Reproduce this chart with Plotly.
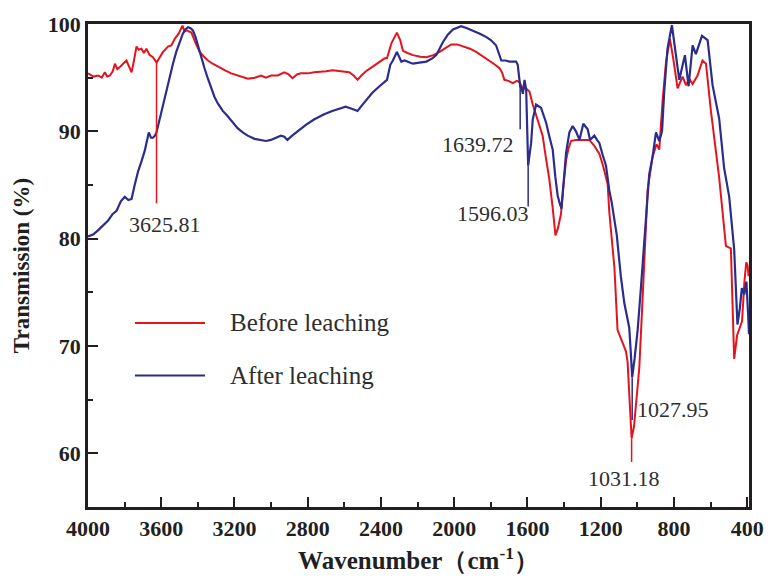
import plotly.graph_objects as go

# FTIR spectra of the sample before and after leaching
wn_before = [
    4000, 3970, 3944, 3925, 3908, 3895, 3880, 3865, 3853, 3840, 3826, 3808, 3790, 3775,
    3762, 3750, 3735, 3722, 3708, 3695, 3681, 3663, 3645, 3625.81, 3608, 3590, 3563, 3545,
    3527, 3505, 3484, 3472, 3462, 3435, 3414, 3390, 3369, 3345, 3319, 3290, 3254, 3218,
    3169, 3127, 3089, 3054, 3029, 3000, 2964, 2928, 2904, 2883, 2859, 2837, 2799, 2765,
    2699, 2665, 2619, 2574, 2549, 2528, 2507, 2482, 2447, 2408, 2380, 2367, 2343, 2325,
    2313, 2295, 2280, 2255, 2226, 2184, 2152, 2114, 2080, 2044, 2016, 1984, 1953, 1914,
    1880, 1844, 1808, 1784, 1754, 1739, 1726, 1704, 1680, 1658, 1644, 1626, 1608, 1589,
    1571, 1553, 1533, 1517, 1499, 1481, 1463, 1447, 1433, 1417, 1403, 1389, 1376, 1362,
    1337, 1316, 1287, 1262, 1237, 1207, 1187, 1162, 1153, 1138, 1125, 1108, 1080, 1062,
    1053, 1045, 1038, 1031.18, 1018, 1003, 989, 975, 962, 944, 917, 895, 880, 862, 843,
    822, 804, 780, 753, 734, 716, 698, 671, 644, 625, 598, 553, 516, 489, 471, 455, 440,
    428, 415, 405, 398, 392,
]
tr_before = [
    95.4, 95.1, 95.2, 95.0, 95.5, 95.1, 95.2, 95.6, 96.3, 95.8, 96.0, 96.3, 96.6, 96.0,
    95.5, 96.5, 97.9, 97.6, 97.7, 97.3, 97.7, 97.1, 96.9, 96.4, 96.9, 97.4, 97.9, 98.0,
    98.6, 99.1, 99.85, 99.3, 99.4, 99.2, 98.3, 97.4, 97.0, 96.6, 96.3, 96.0, 95.7, 95.4,
    95.1, 94.9, 95.0, 95.2, 95.0, 95.2, 95.2, 95.5, 95.3, 94.95, 95.3, 95.4, 95.4, 95.5,
    95.6, 95.7, 95.6, 95.5, 95.2, 94.8, 95.2, 95.6, 96.0, 96.5, 96.8, 96.8, 98.2, 98.8,
    99.2, 98.5, 97.5, 97.3, 97.1, 96.95, 96.9, 97.1, 97.4, 97.8, 98.1, 98.1, 97.9, 97.7,
    97.4, 97.0, 96.6, 96.3, 95.9, 95.5, 94.8, 94.7, 94.5, 94.7, 94.6, 94.0, 94.0, 93.7,
    92.5, 91.6, 90.5, 89.6, 87.5, 85.6, 83.0, 80.3, 81.0, 82.3, 85.0, 87.3, 88.4, 89.1,
    89.2, 89.2, 89.2, 89.2, 88.7, 87.9, 86.8, 85.1, 82.5, 79.5, 77.3, 71.5, 70.2, 69.5,
    68.5, 66.0, 63.0, 61.4, 62.5, 65.5, 68.0, 73.0, 77.3, 84.5, 87.6, 88.8, 88.3, 92.8, 96.5,
    98.6, 96.8, 94.0, 95.1, 94.3, 94.9, 94.4, 95.2, 96.6, 96.3, 91.9, 85.7, 79.3, 79.1,
    68.8, 71.0, 71.8, 72.3, 76.0, 77.8, 77.5, 76.5,
]

wn_after = [
    4000, 3970, 3944, 3915, 3890, 3865, 3844, 3820, 3799, 3780, 3762, 3745, 3726, 3708,
    3690, 3668, 3656, 3645, 3635, 3626, 3608, 3590, 3572, 3554, 3536, 3518, 3500, 3482,
    3468, 3454, 3440, 3427, 3413, 3400, 3382, 3364, 3345, 3327, 3309, 3291, 3264, 3237,
    3210, 3183, 3155, 3128, 3090, 3055, 3028, 3001, 2975, 2947, 2928, 2911, 2885, 2856,
    2810, 2766, 2710, 2666, 2630, 2593, 2560, 2528, 2505, 2482, 2447, 2408, 2380, 2367,
    2349, 2335, 2313, 2298, 2289, 2271, 2226, 2190, 2152, 2120, 2098, 2062, 2035, 2007,
    1962, 1930, 1899, 1860, 1826, 1800, 1771, 1760, 1743, 1720, 1698, 1662, 1653,
    1639.72, 1632, 1625, 1616, 1607, 1600, 1596.03, 1591, 1580, 1571, 1553, 1526, 1498,
    1480, 1462, 1448, 1435, 1422, 1414, 1407, 1389, 1371, 1353, 1335, 1316, 1295, 1282,
    1271, 1258, 1247, 1235, 1220, 1207, 1189, 1171, 1153, 1140, 1112, 1090, 1071, 1044,
    1036, 1027.95, 1015, 998, 980, 962, 949, 935, 917, 898, 880, 865, 853, 835, 811, 793,
    771, 740, 720, 698, 680, 647, 616, 589, 553, 526, 498, 471, 453, 440, 429, 416, 404,
    395, 390,
]
tr_after = [
    80.2, 80.4, 80.8, 81.3, 81.7, 82.3, 82.6, 83.5, 83.9, 83.6, 83.7, 85.0, 86.3, 87.2,
    88.2, 89.9, 89.4, 89.4, 89.6, 89.9, 91.2, 92.5, 93.8, 95.2, 96.3, 97.4, 98.3, 99.1,
    99.5, 99.7, 99.6, 99.4, 98.8, 98.0, 97.0, 95.9, 94.9, 94.0, 93.2, 92.6, 91.9, 91.4,
    90.8, 90.3, 89.9, 89.6, 89.3, 89.2, 89.1, 89.2, 89.4, 89.6, 89.5, 89.2, 89.6, 90.0,
    90.6, 91.1, 91.6, 91.9, 92.1, 92.3, 92.1, 91.9, 92.4, 92.9, 93.6, 94.2, 94.6, 94.8,
    96.2, 96.6, 97.4, 96.8, 96.5, 96.6, 96.3, 96.4, 96.5, 96.8, 97.1, 98.3, 99.0, 99.5,
    99.8, 99.6, 99.4, 99.1, 98.8, 98.5, 98.0, 97.5, 96.6, 96.6, 96.5, 96.5, 96.2,
    94.2, 94.0, 93.5, 94.8, 93.9, 88.9, 86.8, 87.5, 88.9, 91.1, 92.5, 92.2, 90.8,
    89.5, 88.3, 85.8, 84.0, 83.2, 82.8, 84.3, 88.0, 89.9, 90.5, 90.0, 89.2, 90.7, 90.4,
    90.2, 89.2, 89.4, 89.6, 89.2, 88.9, 87.8, 86.8, 84.5, 83.4, 80.3, 76.5, 74.0, 71.7,
    69.5, 67.1, 68.8, 71.5, 75.5, 80.0, 82.5, 86.0, 87.6, 89.9, 89.1, 90.0, 93.7, 97.7, 99.9, 97.4,
    94.8, 97.1, 94.2, 98.0, 97.2, 98.9, 98.5, 94.3, 91.2, 86.6, 83.9, 79.0, 72.0, 73.5,
    75.4, 74.8, 76.0, 73.0, 71.1,
]

# Assigned bands: wavenumber, curve value at the band, lower end of the marker line
peak_labels = ["3625.81", "1639.72", "1596.03", "1027.95", "1031.18"]
peak_wn = [3625.81, 1639.72, 1596.03, 1027.95, 1031.18]
peak_tr = [96.4, 94.2, 86.8, 67.1, 61.4]
peak_line_end = [83.3, 90.2, 83.0, 63.1, 59.2]
peak_series = ["before", "after", "after", "after", "before"]

series_names = ["Before leaching", "After leaching"]
x_ticks = [4000, 3600, 3200, 2800, 2400, 2000, 1600, 1200, 800, 400]
y_ticks = [60, 70, 80, 90, 100]

RED = "#e3141c"
BLUE = "#2b2c8c"
INK = "#231f20"
SERIF = "Liberation Serif"

fig = go.Figure()
fig.add_trace(go.Scatter(x=wn_before, y=tr_before, mode="lines", name=series_names[0],
                         line=dict(color=RED, width=2), showlegend=False))
fig.add_trace(go.Scatter(x=wn_after, y=tr_after, mode="lines", name=series_names[1],
                         line=dict(color=BLUE, width=2.2), showlegend=False))

# band marker lines and their labels
label_style = {
    "3625.81": dict(y=81.3, xanchor="center", xshift=8),
    "1639.72": dict(y=88.8, xanchor="right", xshift=-4),
    "1596.03": dict(y=82.3, xanchor="right", xshift=3),
    "1027.95": dict(y=64.1, xanchor="left", xshift=3),
    "1031.18": dict(y=57.7, xanchor="center", xshift=-8),
}
for lab, w, t0, t1, s in zip(peak_labels, peak_wn, peak_tr, peak_line_end, peak_series):
    col = RED if s == "before" else BLUE
    fig.add_shape(type="line", xref="x", yref="y", x0=w, x1=w, y0=t0, y1=t1,
                  line=dict(color=col, width=1.5))
    st = label_style[lab]
    fig.add_annotation(x=w, y=st["y"], text=lab, showarrow=False, xanchor=st["xanchor"],
                       yanchor="middle", xshift=st["xshift"],
                       font=dict(family=SERIF, size=22, color="#2e2e2e"))

# legend drawn as sample lines with labels
legend_rows = [(series_names[0], RED, 0.381), (series_names[1], BLUE, 0.272)]
for name, col, py in legend_rows:
    fig.add_shape(type="line", xref="paper", yref="paper", x0=0.071, x1=0.177, y0=py, y1=py,
                  line=dict(color=col, width=2))
    fig.add_annotation(xref="paper", yref="paper", x=0.2115, y=py, text=name, showarrow=False,
                       xanchor="left", yanchor="middle",
                       font=dict(family=SERIF, size=25, color="#2e2e2e"))

axis_common = dict(
    showline=True, linecolor=INK, linewidth=2.5, mirror=True,
    ticks="inside", ticklen=10, tickwidth=2, tickcolor=INK,
    showgrid=False, zeroline=False,
    tickfont=dict(family=SERIF, size=22, color=INK),
)
fig.update_xaxes(
    range=[4000, 390], tickvals=x_ticks, ticktext=[f"<b>{v}</b>" for v in x_ticks],
    minor=dict(ticks="inside", ticklen=5, tickwidth=2, tickcolor=INK, dtick=200, tick0=0),
    title=dict(text="<b>Wavenumber（cm<sup>-1</sup>）</b>",
               font=dict(family=SERIF, size=25, color=INK), standoff=12),
    **axis_common,
)
fig.update_yaxes(
    range=[55, 100], tickvals=y_ticks, ticktext=[f"<b>{v}</b>" for v in y_ticks],
    minor=dict(ticks="inside", ticklen=5, tickwidth=2, tickcolor=INK, dtick=5, tick0=0),
    title=dict(text="<b>Transmission (%)</b>", font=dict(family=SERIF, size=23, color=INK),
               standoff=12),
    **axis_common,
)
fig.update_layout(
    width=776, height=583,
    margin=dict(l=88, r=26, t=20, b=74),
    paper_bgcolor="white", plot_bgcolor="white",
)
fig.write_html("out.html")
